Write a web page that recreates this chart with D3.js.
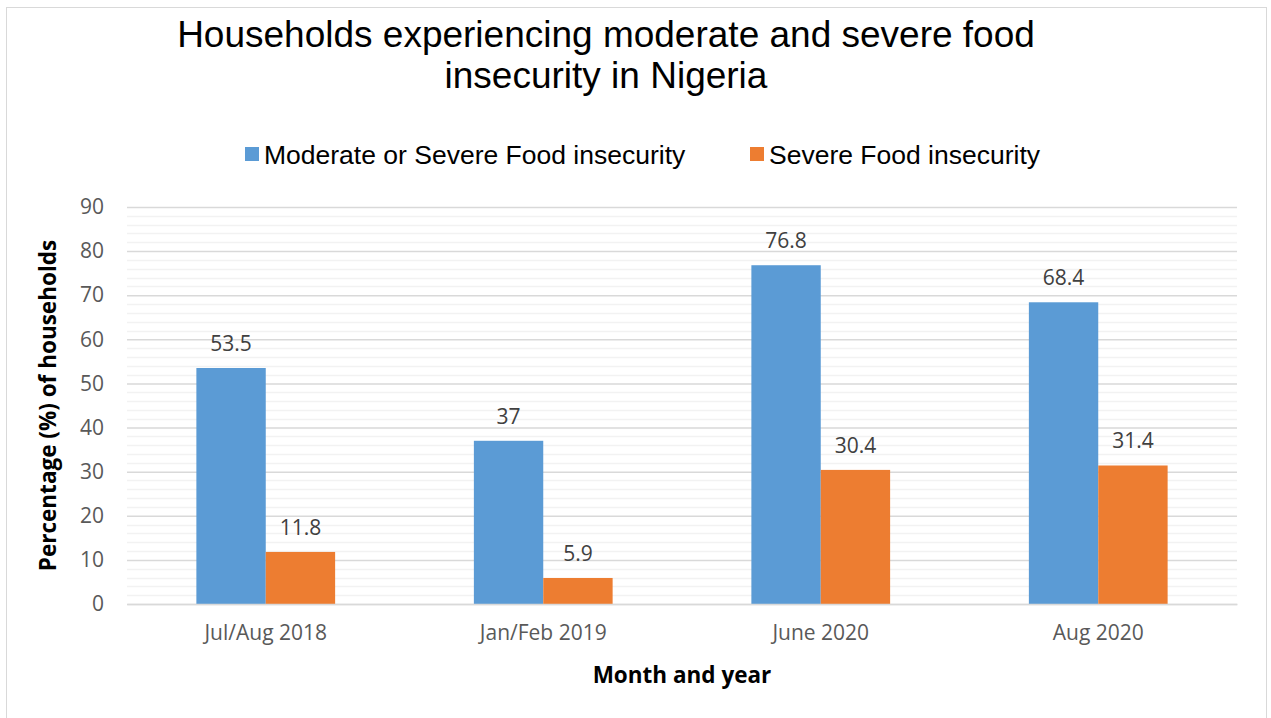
<!DOCTYPE html>
<html>
<head>
<meta charset="utf-8">
<script src="https://cdn.jsdelivr.net/npm/d3@7"></script>
<style>
  body { margin: 0; background: #fff; }
</style>
</head>
<body>
<script>
// Data
const categories = ["Jul/Aug 2018", "Jan/Feb 2019", "June 2020", "Aug 2020"];
const seriesNames = ["Moderate or Severe Food insecurity", "Severe Food insecurity"];
const moderateOrSevere = [53.5, 37, 76.8, 68.4];
const severe = [11.8, 5.9, 30.4, 31.4];
const yTicks = [0, 10, 20, 30, 40, 50, 60, 70, 80, 90];

const colors = ["#5B9BD5", "#ED7D31"];

const width = 1271;
const height = 718;
const margin = { top: 207, right: 34, bottom: 114, left: 127 };

const svg = d3.select("body")
  .append("svg")
  .attr("width", width)
  .attr("height", height);

// outer frame
svg.append("rect")
  .attr("x", 6.5)
  .attr("y", 7.5)
  .attr("width", 1260)
  .attr("height", 720)
  .attr("fill", "#fff")
  .attr("stroke", "#d9d9d9")
  .attr("stroke-width", 1);

// scales
const x0 = d3.scaleBand()
  .domain(categories)
  .range([margin.left, width - margin.right])
  .paddingInner(0.5)
  .paddingOuter(0.25);

const x1 = d3.scaleBand()
  .domain(seriesNames)
  .range([0, x0.bandwidth()]);

const y = d3.scaleLinear()
  .domain([0, 90])
  .range([height - margin.bottom, margin.top]);

// minor gridlines every 2
const minor = d3.range(0, 91, 2).filter(v => v % 10 !== 0);
svg.append("g")
  .selectAll("line")
  .data(minor)
  .join("line")
  .attr("x1", margin.left)
  .attr("x2", width - margin.right)
  .attr("y1", d => Math.round(y(d)) + 0.5)
  .attr("y2", d => Math.round(y(d)) + 0.5)
  .attr("stroke", "#f2f2f2")
  .attr("stroke-width", 1.5);

// major gridlines + y tick labels
const yAxis = d3.axisLeft(y)
  .tickValues(yTicks)
  .tickSize(-(width - margin.left - margin.right))
  .tickPadding(23);

svg.append("g")
  .attr("transform", `translate(${margin.left},0)`)
  .call(yAxis)
  .call(g => g.select(".domain").remove())
  .call(g => g.selectAll(".tick line").attr("stroke", "#d9d9d9").attr("stroke-width", 1.5))
  .call(g => g.selectAll(".tick text")
    .attr("fill", "#595959")
    .style("font-family", "'Open Sans', sans-serif")
    .style("font-size", "21px"));

// bars
const rows = categories.map((c, i) => ({ cat: c, values: [moderateOrSevere[i], severe[i]] }));

const groups = svg.append("g")
  .selectAll("g")
  .data(rows)
  .join("g")
  .attr("transform", d => `translate(${x0(d.cat)},0)`);

groups.selectAll("rect")
  .data(d => d.values.map((v, j) => ({ name: seriesNames[j], value: v, j })))
  .join("rect")
  .attr("x", d => x1(d.name))
  .attr("y", d => y(d.value))
  .attr("width", x1.bandwidth())
  .attr("height", d => y(0) - y(d.value))
  .attr("fill", d => colors[d.j]);

// value labels
groups.selectAll("text")
  .data(d => d.values.map((v, j) => ({ name: seriesNames[j], value: v })))
  .join("text")
  .attr("x", d => x1(d.name) + x1.bandwidth() / 2)
  .attr("y", d => y(d.value) - 17)
  .attr("text-anchor", "middle")
  .attr("fill", "#404040")
  .style("font-family", "'Open Sans', sans-serif")
  .style("font-size", "21px")
  .text(d => d.value);

// x axis
const xAxis = d3.axisBottom(x0).tickSize(0).tickPadding(21);
svg.append("g")
  .attr("transform", `translate(0,${y(0)})`)
  .call(xAxis)
  .call(g => g.select(".domain")
    .attr("stroke", "#d9d9d9")
    .attr("stroke-width", 1.5))
  .call(g => g.selectAll(".tick text")
    .attr("fill", "#595959")
    .style("font-family", "'Open Sans', sans-serif")
    .style("font-size", "21px"));

// axis titles
svg.append("text")
  .attr("x", (margin.left + width - margin.right) / 2)
  .attr("y", 683)
  .attr("text-anchor", "middle")
  .attr("fill", "#000")
  .style("font-family", "'Open Sans', sans-serif")
  .style("font-weight", "bold")
  .style("font-size", "22.5px")
  .text("Month and year");

svg.append("text")
  .attr("transform", `translate(56,${(y(0) + y(90)) / 2}) rotate(-90)`)
  .attr("text-anchor", "middle")
  .attr("fill", "#000")
  .style("font-family", "'Open Sans', sans-serif")
  .style("font-weight", "bold")
  .style("font-size", "22.5px")
  .text("Percentage (%) of households");

// title
const title = svg.append("text")
  .attr("text-anchor", "middle")
  .attr("fill", "#000")
  .style("font-family", "'Liberation Sans', Arial, sans-serif")
  .style("font-size", "37px");
title.append("tspan").attr("x", 606).attr("y", 47).text("Households experiencing moderate and severe food");
title.append("tspan").attr("x", 606).attr("y", 88).text("insecurity in Nigeria");

// legend
const legend = svg.append("g")
  .style("font-family", "'Liberation Sans', Arial, sans-serif")
  .style("font-size", "26.5px");
const legendX = [245, 750];
seriesNames.forEach((name, i) => {
  legend.append("rect")
    .attr("x", legendX[i])
    .attr("y", 147)
    .attr("width", 14)
    .attr("height", 14)
    .attr("fill", colors[i]);
  legend.append("text")
    .attr("x", legendX[i] + 19)
    .attr("y", 164)
    .attr("fill", "#000")
    .text(name);
});
</script>
</body>
</html>
